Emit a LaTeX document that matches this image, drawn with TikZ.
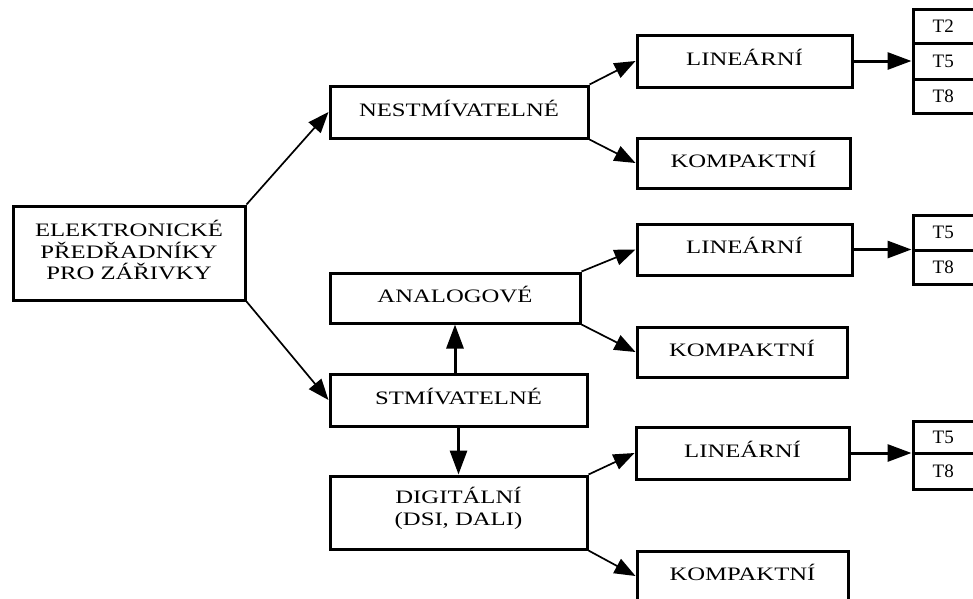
\documentclass[tikz,border=0pt]{standalone}
\usepackage{fontspec}
\setmainfont{Liberation Serif}[FakeStretch=1.3]
\newfontfamily\cellfont{Liberation Serif}
\usetikzlibrary{arrows.meta}

\tikzset{
  labelfont/.style={font=\fontsize{19}{21.5}\selectfont},
  box/.style={draw, line width=3pt, rectangle, inner sep=0pt, align=center,
              text depth=8pt, labelfont},
  rootbox/.style={draw, line width=3pt, rectangle, inner sep=0pt, align=center,
              text depth=6pt, labelfont},
  cell/.style={draw, line width=3pt, rectangle, inner sep=0pt,
               minimum width=80pt},
  celltext/.style={anchor=west, inner sep=0pt, font=\cellfont\fontsize{19}{21}\selectfont},
  thinarrow/.style={line width=1.7pt, -{Triangle[length=21pt,width=16pt]}},
  thickarrow/.style={line width=3pt, -{Triangle[length=24pt,width=17pt]}},
}

\begin{document}
\begin{tikzpicture}[x=1pt, y=-1pt]
  \useasboundingbox (0,0) rectangle (973,598);
  \clip (0,0) rectangle (973,598);

  % root and first level
  \node[rootbox, minimum width=232pt, minimum height=94pt] (root) at (129,253)
    {ELEKTRONICKÉ\\PŘEDŘADNÍKY\\PRO ZÁŘIVKY};
  \node[box, minimum width=258pt, minimum height=52pt] (nest) at (459,112) {NESTMÍVATELNÉ};
  \node[box, minimum width=257pt, minimum height=52pt] (stm) at (458.5,400) {STMÍVATELNÉ};
  \node[box, minimum width=250pt, minimum height=50pt] (analog) at (455,298) {ANALOGOVÉ};
  \node[box, text depth=12pt, minimum width=257pt, minimum height=73pt] (dig) at (458.5,512.5)
    {DIGITÁLNÍ\\(DSI, DALI)};

  % lamp types
  \node[box, minimum width=215pt, minimum height=52pt] (lin1) at (744.5,61) {LINEÁRNÍ};
  \node[box, minimum width=213pt, minimum height=50pt] (kom1) at (743.5,163) {KOMPAKTNÍ};
  \node[box, minimum width=215pt, minimum height=51pt] (lin2) at (744.5,249.5) {LINEÁRNÍ};
  \node[box, minimum width=210pt, minimum height=50pt] (kom2) at (742,352) {KOMPAKTNÍ};
  \node[box, minimum width=213pt, minimum height=52pt] (lin3) at (742.5,453) {LINEÁRNÍ};
  \node[box, minimum width=211pt, minimum height=50pt] (kom3) at (742.5,576) {KOMPAKTNÍ};

  % tube diameters
  \node[cell, minimum height=34pt] (t1a) at (953,26) {};
  \node[cell, minimum height=36pt] (t1b) at (953,61) {};
  \node[cell, minimum height=34pt] (t1c) at (953,96) {};
  \node[cell, minimum height=35pt] (t2a) at (953,232.5) {};
  \node[cell, minimum height=34pt] (t2b) at (953,267) {};
  \node[cell, minimum height=32pt] (t3a) at (953,437) {};
  \node[cell, minimum height=36pt] (t3b) at (953,471) {};
  \foreach \c/\t in {t1a/T2, t1b/T5, t1c/T8, t2a/T5, t2b/T8, t3a/T5, t3b/T8}
    \node[celltext] at ([xshift=21pt]\c.west) {\t};

  % connectors
  \draw[thinarrow] (root.north east) -- (nest.west);
  \draw[thinarrow] (root.south east) -- (stm.west);
  \draw[thinarrow] (nest.north east) -- (lin1.west);
  \draw[thinarrow] (nest.south east) -- (kom1.west);
  \draw[thinarrow] (analog.north east) -- (lin2.west);
  \draw[thinarrow] (analog.south east) -- (kom2.west);
  \draw[thinarrow] (dig.north east) -- (lin3.west);
  \draw[thinarrow] (dig.south east) -- (kom3.west);
  \draw[thickarrow] (stm.north -| analog.north) -- (analog.south);
  \draw[thickarrow] (stm.south) -- (stm.south |- dig.north);
  \draw[thickarrow] (lin1.east) -- (t1b.west);
  \draw[thickarrow] (lin2.east) -- (lin2.east -| t2a.west);
  \draw[thickarrow] (lin3.east) -- (lin3.east -| t3a.west);
\end{tikzpicture}
\end{document}
